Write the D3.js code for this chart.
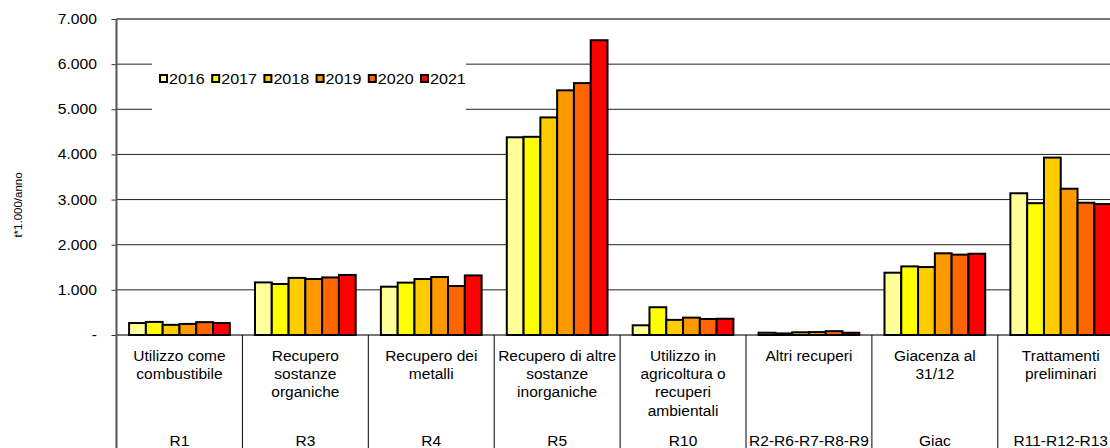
<!DOCTYPE html>
<html>
<head>
<meta charset="utf-8">
<script src="https://cdn.jsdelivr.net/npm/d3@7"></script>
<style>
  body { margin: 0; background: #fff; }
  text { font-family: "Liberation Sans", Arial, sans-serif; fill: #000; }
</style>
</head>
<body>
<div id="chart"></div>
<script>
var codes = ["R1", "R3", "R4", "R5", "R10", "R2-R6-R7-R8-R9", "Giac", "R11-R12-R13"];
var names = [
    ["Utilizzo come", "combustibile"],
    ["Recupero", "sostanze", "organiche"],
    ["Recupero dei", "metalli"],
    ["Recupero di altre", "sostanze", "inorganiche"],
    ["Utilizzo in", "agricoltura o", "recuperi", "ambientali"],
    ["Altri recuperi"],
    ["Giacenza al", "31/12"],
    ["Trattamenti", "preliminari"]
];
var years = ["2016", "2017", "2018", "2019", "2020", "2021"];
var colors = ["#ffff99", "#ffff00", "#ffcc00", "#ff9900", "#ff6600", "#ff0000"];

var v2016 = [265, 1165, 1070, 4380, 215, 50, 1380, 3140];
var v2017 = [290, 1130, 1160, 4390, 615, 35, 1520, 2920];
var v2018 = [225, 1265, 1240, 4820, 335, 60, 1505, 3930];
var v2019 = [245, 1240, 1285, 5420, 385, 65, 1810, 3240];
var v2020 = [285, 1275, 1085, 5580, 355, 85, 1780, 2930];
var v2021 = [265, 1330, 1320, 6530, 360, 50, 1800, 2900];
var yTicks = [0, 1000, 2000, 3000, 4000, 5000, 6000, 7000];

var series = [v2016, v2017, v2018, v2019, v2020, v2021];

var W = 1110, H = 448;
var plotLeft = 116.5, plotTop = 19, plotBottom = 335, step = 125.9;

var svg = d3.select("#chart").append("svg")
    .attr("width", W)
    .attr("height", H);

var x0 = d3.scaleBand().domain(codes).range([plotLeft, plotLeft + step * codes.length]).padding(0);
var x1 = d3.scaleBand().domain(years).range([0, x0.bandwidth()]).paddingInner(0).paddingOuter(0.75);
var y = d3.scaleLinear().domain([0, 7000]).range([plotBottom, plotTop]);

var it = d3.formatLocale({ decimal: ",", thousands: ".", grouping: [3], currency: ["", ""] });
var fmt = it.format(",");

// gridlines
svg.append("g").selectAll("line")
    .data(yTicks)
    .enter().append("line")
    .attr("x1", plotLeft).attr("x2", W)
    .attr("y1", function (d) { return y(d); })
    .attr("y2", function (d) { return y(d); })
    .attr("stroke", function (d) { return d == 0 || d == 7000 ? "#777" : "#222"; })
    .attr("stroke-width", function (d) { return d == 0 || d == 7000 ? 2 : 1; });

// legend background
var lg = svg.append("g");
lg.append("rect")
    .attr("x", 152).attr("y", 58).attr("width", 314).attr("height", 55)
    .attr("fill", "#fff");

// bars
var groups = svg.append("g").selectAll("g")
    .data(codes)
    .enter().append("g")
    .attr("transform", function (d) { return "translate(" + x0(d) + ",0)"; });

groups.selectAll("rect")
    .data(function (d, i) { return years.map(function (yr, j) { return { yr: yr, v: series[j][i], c: colors[j] }; }); })
    .enter().append("rect")
    .attr("x", function (d) { return x1(d.yr); })
    .attr("width", x1.bandwidth())
    .attr("y", function (d) { return y(d.v); })
    .attr("height", function (d) { return y(0) - y(d.v); })
    .attr("fill", function (d) { return d.c; })
    .attr("stroke", "#000")
    .attr("stroke-width", 2);

// y axis
var yAxis = svg.append("g")
    .attr("transform", "translate(" + plotLeft + ",0)")
    .call(d3.axisLeft(y).tickValues(yTicks).tickSize(5).tickPadding(13)
        .tickFormat(function (d) { return d == 0 ? "-" : fmt(d); }));
yAxis.select(".domain").remove();
yAxis.selectAll(".tick line").attr("stroke", "#333");
yAxis.selectAll(".tick text")
    .style("font-size", "14px")
    .style("font-family", "'Liberation Sans', Arial, sans-serif")
    .attr("fill", "#000")
    .attr("transform", "scale(1.12,1)")
    .attr("x", -19.5 / 1.12);

svg.append("line")
    .attr("x1", plotLeft).attr("x2", plotLeft)
    .attr("y1", plotTop).attr("y2", H)
    .attr("stroke", "#555").attr("stroke-width", 2);

// category separators
svg.append("g").selectAll("line")
    .data(codes)
    .enter().append("line")
    .attr("x1", function (d) { return x0(d) + x0.bandwidth(); })
    .attr("x2", function (d) { return x0(d) + x0.bandwidth(); })
    .attr("y1", plotBottom).attr("y2", H)
    .attr("stroke", "#000").attr("stroke-width", 1);

// category labels
var cat = svg.append("g").selectAll("g")
    .data(codes)
    .enter().append("g");

cat.each(function (d, i) {
    var g = d3.select(this);
    var cx = x0(d) + x0.bandwidth() / 2;
    names[i].forEach(function (s, k) {
        g.append("text")
            .attr("transform", "translate(" + cx + "," + (360.5 + k * 18.4) + ")")
            .attr("text-anchor", "middle")
            .style("font-size", "15.5px")
            .text(s);
    });
    g.append("text")
        .attr("transform", "translate(" + cx + "," + 445.5 + ")")
        .attr("text-anchor", "middle")
        .style("font-size", "15.5px")
        .text(d);
});

// axis title
svg.append("text")
    .attr("transform", "translate(22,205) rotate(-90)")
    .attr("text-anchor", "middle")
    .style("font-size", "11.5px")
    .text("t*1.000/anno");

// legend
var items = lg.selectAll("g.item")
    .data(years)
    .enter().append("g")
    .attr("class", "item")
    .attr("transform", function (d, i) { return "translate(" + (160 + i * 52.2) + ",0)"; });

items.append("rect")
    .attr("x", 0).attr("y", 75).attr("width", 7).attr("height", 7)
    .attr("fill", function (d, i) { return colors[i]; })
    .attr("stroke", "#000").attr("stroke-width", 2);

items.append("text")
    .attr("transform", "translate(9,83.5) scale(1.15,1)")
    .style("font-size", "14px")
    .text(function (d) { return d; });
</script>
</body>
</html>
